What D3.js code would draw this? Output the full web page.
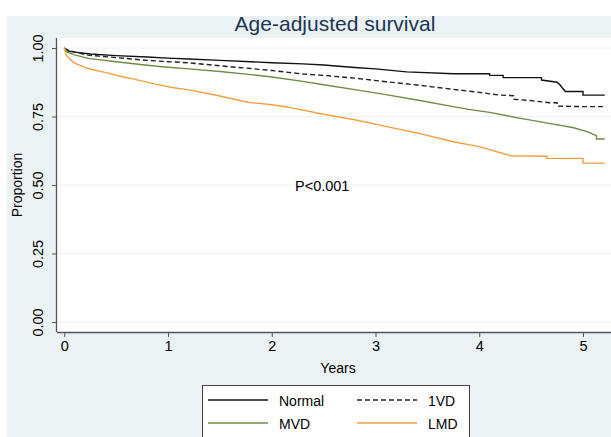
<!DOCTYPE html>
<html>
<head>
<meta charset="utf-8">
<script src="https://cdn.jsdelivr.net/npm/d3@7"></script>
<style>
  html, body { margin: 0; padding: 0; background: #fff; }
  svg { display: block; font-family: "Liberation Sans", Arial, sans-serif; }
</style>
</head>
<body>
<svg id="chart" width="611" height="437"></svg>
<script>
// survival estimates (years, proportion)
// repeated times mark the visible drops of the step function
const normalT = [0, 0.02, 0.1, 0.25, 0.5, 0.8, 1.0, 1.2, 1.5, 1.8, 2.0, 2.3, 2.5, 2.8, 3.0, 3.3, 3.75, 4.1, 4.1, 4.23, 4.23, 4.6, 4.6, 4.75, 4.78, 4.8, 4.83, 5.0, 5.0, 5.21];
const normalS = [1.0, 0.99, 0.985, 0.978, 0.972, 0.967, 0.963, 0.96, 0.955, 0.95, 0.946, 0.942, 0.938, 0.929, 0.924, 0.913, 0.906, 0.906, 0.9, 0.9, 0.892, 0.892, 0.883, 0.875, 0.865, 0.855, 0.841, 0.841, 0.828, 0.828];

const vd1T = [0, 0.05, 0.23, 0.5, 0.8, 1.0, 1.2, 1.5, 1.8, 2.0, 2.3, 2.5, 2.8, 3.1, 3.4, 3.75, 4.0, 4.2, 4.33, 4.33, 4.5, 4.68, 4.75, 4.75, 5.0, 5.21];
const vd1S = [1.0, 0.99, 0.974, 0.965, 0.955, 0.95, 0.946, 0.935, 0.925, 0.918, 0.905, 0.9, 0.89, 0.877, 0.865, 0.849, 0.838, 0.828, 0.826, 0.813, 0.808, 0.8, 0.8, 0.788, 0.786, 0.786];

const mvdT = [0, 0.03, 0.1, 0.23, 0.5, 0.8, 1.0, 1.2, 1.5, 1.8, 2.0, 2.3, 2.5, 2.8, 3.1, 3.4, 3.75, 3.9, 4.1, 4.4, 4.7, 4.9, 5.04, 5.1, 5.13, 5.13, 5.21];
const mvdS = [1.0, 0.985, 0.975, 0.962, 0.95, 0.937, 0.93, 0.924, 0.914, 0.903, 0.894, 0.878, 0.866, 0.848, 0.83, 0.81, 0.786, 0.776, 0.765, 0.743, 0.723, 0.71, 0.695, 0.685, 0.68, 0.668, 0.668];

const lmdT = [0, 0.02, 0.05, 0.1, 0.23, 0.4, 0.56, 0.65, 0.88, 1.04, 1.2, 1.5, 1.77, 2.0, 2.16, 2.5, 2.8, 3.11, 3.4, 3.75, 4.0, 4.23, 4.3, 4.65, 4.65, 5.0, 5.0, 5.21];
const lmdS = [1.0, 0.975, 0.96, 0.945, 0.925, 0.91, 0.895, 0.888, 0.868, 0.856, 0.847, 0.825, 0.802, 0.793, 0.784, 0.758, 0.738, 0.713, 0.69, 0.658, 0.64, 0.615, 0.607, 0.605, 0.597, 0.597, 0.58, 0.58];

const groupNames = ["Normal", "1VD", "MVD", "LMD"];
const xTicks = [0, 1, 2, 3, 4, 5];
const yTicks = [0, 0.25, 0.5, 0.75, 1];

const svg = d3.select("#chart");
const W = 611, H = 437;

const plotLeft = 57, plotRight = 611, plotTop = 38, plotBottom = 332;

const x = d3.scaleLinear().domain([-0.07, 5.27]).range([plotLeft, plotRight]);
const y = d3.scaleLinear().domain([0, 1]).range([322, 48]);

// stata style background
svg.append("rect").attr("x", 7).attr("y", 16).attr("width", W - 7).attr("height", H - 16)
    .attr("fill", "#eaf2f3");
svg.append("rect").attr("x", plotLeft).attr("y", plotTop)
    .attr("width", plotRight - plotLeft).attr("height", plotBottom - plotTop)
    .attr("fill", "#fff");

// gridlines
svg.append("g").selectAll("line").data(yTicks).enter().append("line")
    .attr("x1", plotLeft).attr("x2", plotRight)
    .attr("y1", (d) => y(d)).attr("y2", (d) => y(d))
    .attr("stroke", "#eaf2f3").attr("stroke-width", 1);

// axes
const yAxis = svg.append("g").attr("transform", `translate(${plotLeft},0)`)
    .call(d3.axisLeft(y).tickValues(yTicks).tickFormat(d3.format(".2f")).tickSize(5).tickPadding(5));
yAxis.select(".domain").attr("d", `M-0.5,${plotTop}V${plotBottom}`);
yAxis.selectAll("text")
    .attr("transform", "rotate(-90)")
    .attr("x", 0).attr("dy", 0).attr("y", -14)
    .attr("text-anchor", "middle")
    .attr("font-size", 14.5).attr("fill", "#000");

const xAxis = svg.append("g").attr("transform", `translate(0,${plotBottom})`)
    .call(d3.axisBottom(x).tickValues(xTicks).tickFormat(d3.format("d")).tickSize(5).tickPadding(4));
xAxis.select(".domain").attr("d", `M${plotLeft},0.5H${plotRight}`);
xAxis.selectAll("text").attr("font-size", 14.5).attr("fill", "#000");
svg.selectAll(".domain").attr("stroke", "#555").attr("stroke-width", 1.3);
svg.selectAll(".tick line").attr("stroke", "#555");

// curves
const series = [
    { t: normalT, s: normalS, color: "#111", dash: null },
    { t: vd1T, s: vd1S, color: "#222", dash: "5,3" },
    { t: mvdT, s: mvdS, color: "#6d8c45", dash: null },
    { t: lmdT, s: lmdS, color: "#f0a043", dash: null },
];
const line = d3.line().x((d) => x(d[0])).y((d) => y(d[1]));
series.forEach((sr) => {
    svg.append("path")
        .datum(sr.t.map((t, i) => [t, sr.s[i]]))
        .attr("d", line)
        .attr("fill", "none")
        .attr("stroke", sr.color)
        .attr("stroke-width", 1.4)
        .attr("stroke-dasharray", sr.dash);
});

// texts
svg.append("text").attr("x", 335).attr("y", 31).attr("text-anchor", "middle")
    .attr("font-size", 21).attr("fill", "#1e3554").text("Age-adjusted survival");
svg.append("text").attr("x", 338).attr("y", 373).attr("text-anchor", "middle")
    .attr("font-size", 14).text("Years");
svg.append("text").attr("transform", "translate(22,185) rotate(-90)").attr("text-anchor", "middle")
    .attr("font-size", 14).text("Proportion");
svg.append("text").attr("x", 295).attr("y", 191)
    .attr("font-size", 14.5).text("P<0.001");

// legend
const legend = svg.append("g");
legend.append("rect").attr("x", 202.5).attr("y", 385.5).attr("width", 267).attr("height", 52)
    .attr("fill", "#fff").attr("stroke", "#444").attr("stroke-width", 1);
const legPos = [[208, 400], [357, 400], [208, 423], [357, 423]];
groupNames.forEach((name, i) => {
    const [lx, ly] = legPos[i];
    legend.append("line").attr("x1", lx).attr("x2", lx + 60).attr("y1", ly).attr("y2", ly)
        .attr("stroke", series[i].color).attr("stroke-width", 1.3)
        .attr("stroke-dasharray", series[i].dash);
    legend.append("text").attr("x", lx + 71).attr("y", ly + 5.5)
        .attr("font-size", 14).text(name);
});
</script>
</body>
</html>
